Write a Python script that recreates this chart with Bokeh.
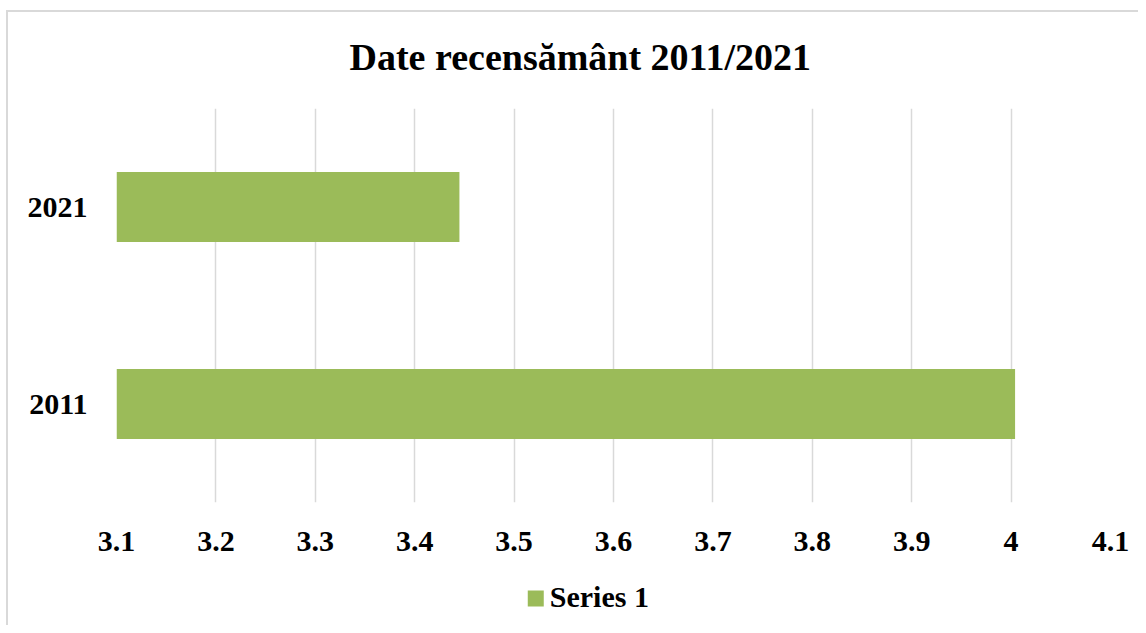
from bokeh.plotting import figure
from bokeh.models import FactorRange, Range1d, FixedTicker
from bokeh.layouts import column
from bokeh.core.properties import value
from bokeh.embed import file_html
from bokeh.resources import INLINE

categories = ["2011", "2021"]
values = [4.004, 3.445]
x_ticks = [3.1, 3.2, 3.3, 3.4, 3.5, 3.6, 3.7, 3.8, 3.9, 4.0, 4.1]
title_text = "Date recensământ 2011/2021"
series_name = "Series 1"

FONT = "Liberation Serif"
GREEN = "#9BBB59"
GRID = "#D9D9D9"

p = figure(width=1138, height=570, output_backend="svg", toolbar_location=None,
           y_range=FactorRange(factors=categories),
           x_range=Range1d(3.1, 4.1),
           min_border_left=116, min_border_right=28,
           min_border_top=108, min_border_bottom=68)
p.border_fill_alpha = 0
p.background_fill_alpha = 0

r = p.hbar(y=categories, left=3.1, right=values, height=0.355, color=GREEN, line_color=None)

p.title.text = title_text
p.title.text_font = FONT
p.title.text_font_size = "38px"
p.title.text_font_style = "bold"
p.title.align = "left"
p.title.offset = 233
p.title.standoff = 62
p.title.text_color = "#000000"

p.xaxis.ticker = FixedTicker(ticks=x_ticks)
p.xaxis.major_label_overrides = {4.0: "4"}
p.xaxis.major_label_text_font = FONT
p.xaxis.major_label_text_font_size = "30px"
p.xaxis.major_label_text_font_style = "bold"
p.xaxis.major_label_text_color = "#000000"
p.xaxis.axis_line_color = None
p.xaxis.major_tick_line_color = None
p.xaxis.minor_tick_line_color = None
p.xaxis.major_tick_out = 0
p.xaxis.major_label_standoff = 29

p.yaxis.major_label_text_font = FONT
p.yaxis.major_label_text_font_size = "30px"
p.yaxis.major_label_text_font_style = "bold"
p.yaxis.major_label_text_color = "#000000"
p.yaxis.axis_line_color = None
p.yaxis.major_tick_line_color = None
p.yaxis.major_tick_out = 0
p.yaxis.major_label_standoff = 29

p.xgrid.grid_line_color = GRID
p.xgrid.grid_line_width = 1.5
p.xgrid.ticker = FixedTicker(ticks=x_ticks)
p.ygrid.grid_line_color = None
p.outline_line_color = None

# legend strip below the chart
p2 = figure(width=1138, height=55, output_backend="svg", toolbar_location=None,
            x_range=Range1d(0, 1138), y_range=Range1d(0, 55),
            x_axis_location=None, y_axis_location=None,
            min_border=0, min_border_left=0, min_border_right=0,
            min_border_top=0, min_border_bottom=0)
p2.border_fill_alpha = 0
p2.background_fill_alpha = 0
p2.grid.visible = False
p2.outline_line_color = None
p2.scatter(x=[480], y=[27], marker="square", size=16, color=GREEN, line_color=None)
p2.text(x=[496], y=[29], text=[series_name], text_font=value(FONT),
        text_font_size="30px", text_font_style="bold", text_color="#000000",
        text_baseline="middle", text_align="left")

frame_css = ("linear-gradient(#D9D9D9,#D9D9D9) 6px 10px / 2px 100% no-repeat, "
             "linear-gradient(#D9D9D9,#D9D9D9) 6px 10px / 100% 2px no-repeat, #FFFFFF")
layout = column(p, p2, spacing=0, styles={"background": frame_css})
open("out.html", "w").write(file_html(layout, INLINE))
